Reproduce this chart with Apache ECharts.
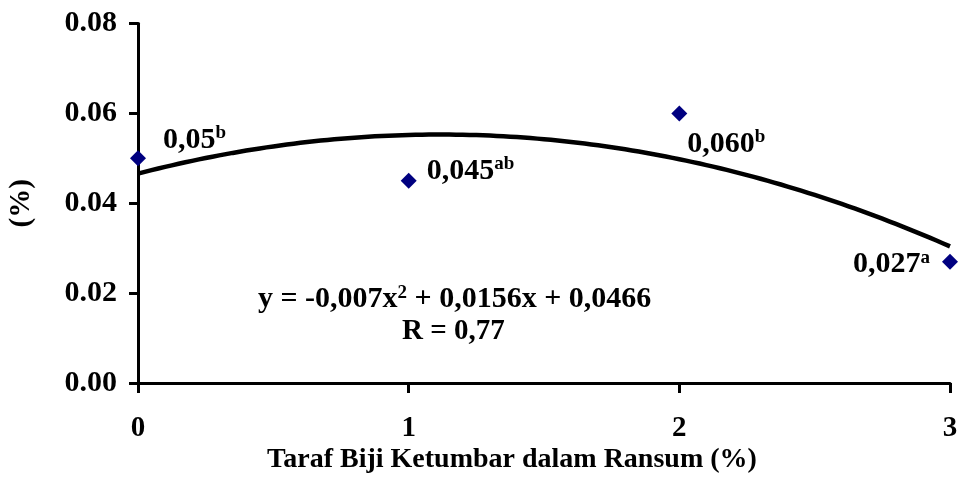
<!DOCTYPE html>
<html>
<head>
<meta charset="utf-8">
<script src="https://cdn.jsdelivr.net/npm/echarts@6/dist/echarts.min.js"></script>
<style>
  html, body { margin: 0; padding: 0; background: #fff; }
  #chart { width: 960px; height: 477px; }
</style>
</head>
<body>
<div id="chart"></div>
<script>
// Levels of coriander seed in the ration (%)
const levels = [0, 1, 2, 3];
// Observed means (%)
const means = [0.05, 0.045, 0.060, 0.027];
// Printed value and significance letter per point
const valueTexts = ['0,05', '0,045', '0,060', '0,027'];
const sigLetters = ['b', 'ab', 'b', 'a'];
// Quadratic fit: y = a x^2 + b x + c
const fitCoef = [-0.007, 0.0156, 0.0466];
const fitR = '0,77';
const yTicks = [0, 0.02, 0.04, 0.06, 0.08];

const FONT = '"Liberation Serif", "Times New Roman", serif';

// Sample the fitted curve across the x range
const curve = [];
for (let i = 0; i <= 120; i++) {
  const x = 3 * i / 120;
  curve.push([x, fitCoef[0] * x * x + fitCoef[1] * x + fitCoef[2]]);
}

const labelPlacement = [
  { position: 'right', offset: [12, -18] },
  { position: 'right', offset: [5, -10] },
  { position: 'right', offset: [-5, 31] },
  { position: 'left',  offset: [-7, 3] }
];

const points = levels.map((x, i) => ({
  value: [x, means[i]],
  label: Object.assign({
    show: true,
    formatter: '{v|' + valueTexts[i] + '}{s|' + sigLetters[i] + '}'
  }, labelPlacement[i])
}));

const richLabel = {
  v: { fontFamily: FONT, fontWeight: 'bold', fontSize: 30, color: '#000' },
  s: { fontFamily: FONT, fontWeight: 'bold', fontSize: 19, color: '#000', verticalAlign: 'top', padding: [0, 0, 14, 0] }
};

const fmt = v => String(v).replace('.', ',');

const chart = echarts.init(document.getElementById('chart'), null, { renderer: 'canvas' });
chart.setOption({
  animation: false,
  backgroundColor: '#fff',
  grid: { left: 138, right: 10, top: 23.5, bottom: 94, containLabel: false, outerBoundsMode: 'none' },
  xAxis: {
    type: 'value', min: 0, max: 3, interval: 1,
    axisLine: { show: true, lineStyle: { color: '#000', width: 3 } },
    axisTick: { show: true, length: 10, lineStyle: { color: '#000', width: 3 } },
    axisLabel: { color: '#000', fontFamily: FONT, fontWeight: 'bold', fontSize: 29, margin: 31 },
    splitLine: { show: false }
  },
  yAxis: {
    type: 'value', min: 0, max: 0.08, interval: 0.02,
    name: '(%)', nameLocation: 'middle', nameRotate: 90, nameGap: 102,
    nameTextStyle: { color: '#000', fontFamily: FONT, fontWeight: 'bold', fontSize: 29 },
    axisLine: { show: true, lineStyle: { color: '#000', width: 3 } },
    axisTick: { show: true, length: 9, lineStyle: { color: '#000', width: 3 } },
    axisLabel: {
      color: '#000', fontFamily: FONT, fontWeight: 'bold', fontSize: 30, margin: 21,
      formatter: v => v.toFixed(2)
    },
    splitLine: { show: false }
  },
  graphic: [
    {
      type: 'text', x: 512, y: 446,
      style: {
        text: 'Taraf Biji Ketumbar dalam Ransum (%)', align: 'center',
        fill: '#000', font: 'bold 28px ' + FONT
      }
    },
    {
      type: 'text', left: 258, top: 284,
      style: {
        text: '{t|y = ' + fmt(fitCoef[0]) + 'x}{s|2}{t| + ' + fmt(fitCoef[1]) + 'x + ' + fmt(fitCoef[2]) + '}',
        rich: {
          t: { fontFamily: FONT, fontWeight: 'bold', fontSize: 30, fill: '#000' },
          s: { fontFamily: FONT, fontWeight: 'bold', fontSize: 19, fill: '#000', verticalAlign: 'top', padding: [0, 0, 12, 0] }
        }
      }
    },
    {
      type: 'text', left: 402, top: 317,
      style: { text: 'R = ' + fitR, fill: '#000', font: 'bold 29px ' + FONT }
    }
  ],
  series: [
    {
      type: 'line', data: curve, showSymbol: false, smooth: false,
      lineStyle: { color: '#000', width: 4.5 }, z: 2, silent: true
    },
    {
      type: 'scatter', data: points, symbol: 'diamond', symbolSize: 16,
      itemStyle: { color: '#000080', opacity: 1 }, z: 3,
      label: { rich: richLabel, color: '#000' }
    }
  ]
});
</script>
</body>
</html>
